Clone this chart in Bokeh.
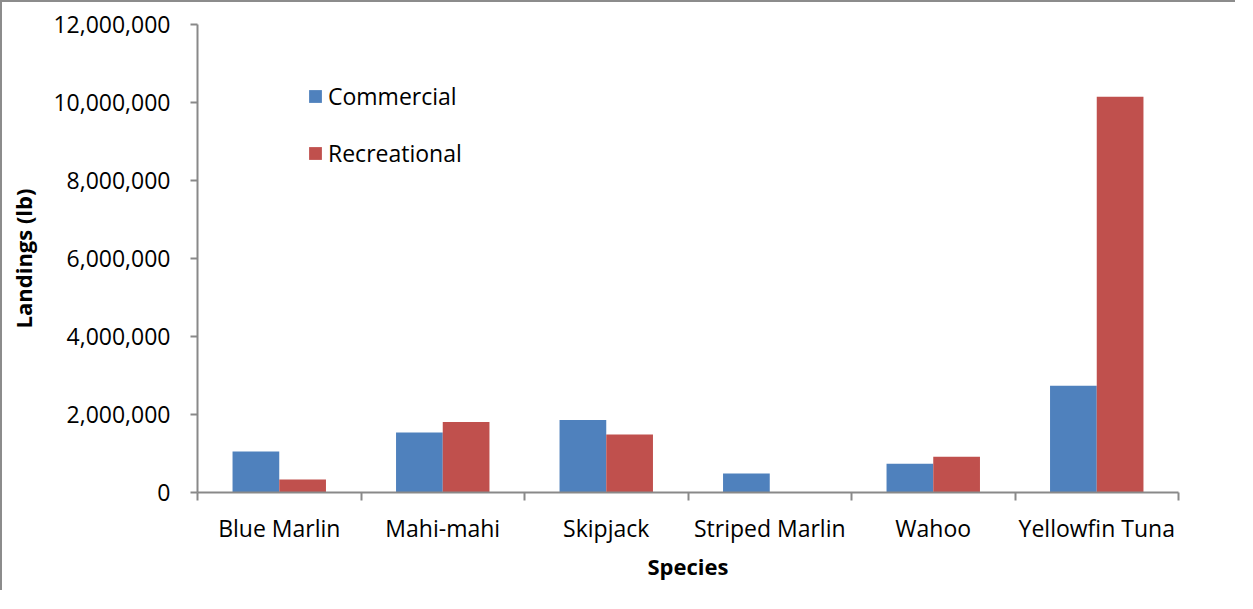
from bokeh.plotting import figure
from bokeh.models import Range1d, FixedTicker, NumeralTickFormatter, ColumnDataSource
from bokeh.embed import file_html
from bokeh.resources import INLINE

species = ["Blue Marlin", "Mahi-mahi", "Skipjack", "Striped Marlin", "Wahoo", "Yellowfin Tuna"]
commercial = [1050000, 1540000, 1860000, 490000, 735000, 2740000]
recreational = [335000, 1810000, 1490000, 0, 915000, 10150000]
y_ticks = [0, 2000000, 4000000, 6000000, 8000000, 10000000, 12000000]

FONT = "Open Sans"
BLUE = "#4F81BD"
RED = "#C0504D"
GRAY = "#898989"

bar_w = 1 / 3.5
idx = list(range(len(species)))
centers = [i + 0.5 for i in idx]
src = ColumnDataSource(dict(
    species=species,
    xc=[c - bar_w / 2 for c in centers],
    xr=[c + bar_w / 2 for c in centers],
    commercial=commercial,
    recreational=recreational,
))

p = figure(width=1235, height=590, output_backend="svg", toolbar_location=None,
           x_range=Range1d(0, len(species)), y_range=Range1d(y_ticks[0], y_ticks[-1]),
           min_border_left=195, min_border_right=59, min_border_top=22, min_border_bottom=100)
p.styles = {"border-top": "2px solid #8c8c8c", "border-left": "2px solid #8c8c8c"}
p.outline_line_color = None
p.grid.visible = False
p.background_fill_color = "white"
p.border_fill_color = "white"

p.vbar(x="xc", top="commercial", width=bar_w, source=src, color=BLUE, line_color=None,
       legend_label="Commercial")
p.vbar(x="xr", top="recreational", width=bar_w, source=src, color=RED, line_color=None,
       legend_label="Recreational")

# x axis: labels at category centres, tick marks between categories
xa = p.xaxis[0]
xa.ticker = FixedTicker(ticks=centers, minor_ticks=[0] + [i + 1 for i in idx])
xa.major_label_overrides = {c: s for c, s in zip(centers, species)}
xa.major_tick_line_color = None
xa.major_tick_out = 0
xa.minor_tick_in = 0
xa.minor_tick_out = 8
xa.minor_tick_line_color = GRAY
xa.minor_tick_line_width = 2
xa.axis_line_color = GRAY
xa.axis_line_width = 2
xa.major_label_text_font = FONT
xa.major_label_text_font_size = "23px"
xa.major_label_text_color = "black"
xa.major_label_standoff = 11
xa.axis_label = "Species"
xa.axis_label_text_font = FONT
xa.axis_label_text_font_size = "22px"
xa.axis_label_text_font_style = "bold"
xa.axis_label_text_color = "black"
xa.axis_label_standoff = 4

ya = p.yaxis[0]
ya.ticker = FixedTicker(ticks=y_ticks, minor_ticks=[])
ya.formatter = NumeralTickFormatter(format="0,0")
ya.major_tick_in = 0
ya.major_tick_out = 7
ya.major_tick_line_color = GRAY
ya.major_tick_line_width = 2
ya.axis_line_color = GRAY
ya.axis_line_width = 2
ya.major_label_text_font = FONT
ya.major_label_text_font_size = "23px"
ya.major_label_text_color = "black"
ya.major_label_standoff = 20
ya.axis_label = "Landings (lb)"
ya.axis_label_text_font = FONT
ya.axis_label_text_font_size = "22px"
ya.axis_label_text_font_style = "bold"
ya.axis_label_text_color = "black"
ya.axis_label_standoff = 12

lg = p.legend[0]
lg.location = (110, 323)
lg.border_line_color = None
lg.background_fill_alpha = 0
lg.padding = 0
lg.margin = 0
lg.spacing = 25
lg.glyph_width = 16
lg.glyph_height = 16
lg.label_height = 20
lg.label_standoff = 5
lg.label_text_font = FONT
lg.label_text_font_size = "23px"
lg.label_text_color = "black"

open("out.html", "w").write(file_html(p, INLINE))
